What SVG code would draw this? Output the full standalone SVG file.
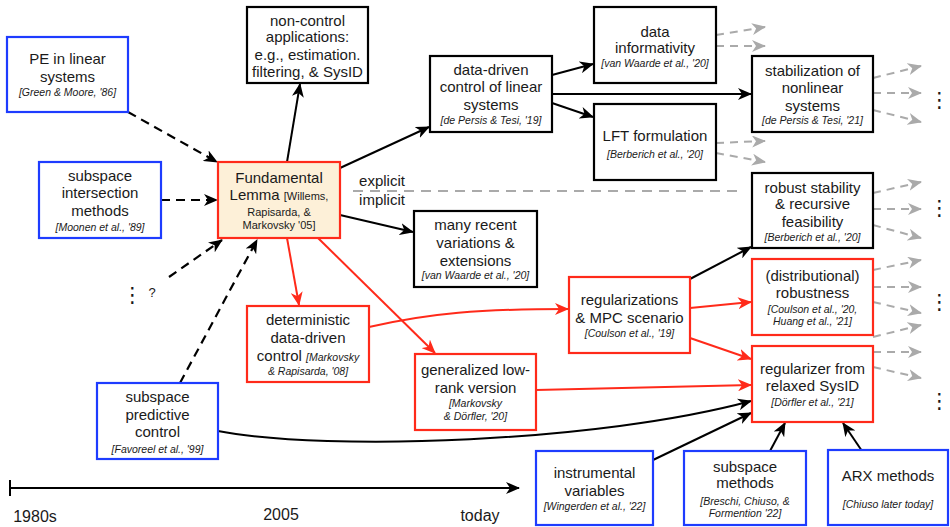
<svg xmlns="http://www.w3.org/2000/svg" width="950" height="527" viewBox="0 0 950 527">
<style>
text{font-family:"Liberation Sans",Arial,sans-serif;fill:#1a1a1a;text-anchor:middle}
.t{font-size:15px}
.c{font-size:10.5px;font-style:italic}
.s{font-size:11px}
.lab{font-size:16px}
.dots{font-family:"DejaVu Sans",sans-serif;font-size:21px;text-anchor:end}
.bk{fill:#fff;stroke:#000;stroke-width:2.2}
.bl{fill:#fff;stroke:#1e3cff;stroke-width:2.2}
.rd{fill:#fff;stroke:#ff2a1a;stroke-width:2.2}
.fl{fill:#fdf0d8;stroke:#ff2a1a;stroke-width:2.2}
.ek{fill:none;stroke:#000;stroke-width:2;marker-end:url(#ak)}
.ed{fill:none;stroke:#000;stroke-width:2.2;stroke-dasharray:9,6;marker-end:url(#ak)}
.er{fill:none;stroke:#ff2a1a;stroke-width:2;marker-end:url(#ar)}
.eg{fill:none;stroke:#aaa;stroke-width:2;stroke-dasharray:8,6;marker-end:url(#ag)}
</style>
<defs>
<marker id="ak" markerUnits="userSpaceOnUse" viewBox="0 0 14 12" markerWidth="14" markerHeight="12" refX="13" refY="6" orient="auto"><path d="M0,0 L14,6 L0,12 L4,6 z" fill="#000"/></marker>
<marker id="ar" markerUnits="userSpaceOnUse" viewBox="0 0 14 12" markerWidth="14" markerHeight="12" refX="13" refY="6" orient="auto"><path d="M0,0 L14,6 L0,12 L4,6 z" fill="#ff2a1a"/></marker>
<marker id="ag" markerUnits="userSpaceOnUse" viewBox="0 0 14 12" markerWidth="14" markerHeight="12" refX="13" refY="6" orient="auto"><path d="M0,0 L14,6 L0,12 L4,6 z" fill="#aaa"/></marker>
</defs>

<g id="connectors">
<path class="ed" d="M128,112 L217,162"/>
<path class="ed" d="M161,200 L217,200"/>
<path class="ed" d="M169,277 L222,240"/>
<path class="ed" d="M180,383 L257,240"/>
<path class="ek" d="M287,162 L300,84"/>
<path class="ek" d="M340,168 L429,127"/>
<path class="ek" d="M340,215 L413,232"/>
<path class="er" d="M287,238 L299,305"/>
<path class="er" d="M318,238 L435,353"/>
<path class="ek" d="M552,75 L593,64"/>
<path class="ek" d="M552,94 L751,94"/>
<path class="ek" d="M552,103 L593,117"/>
<path class="er" d="M369,327 C430,313 480,309 568,309"/>
<path class="ek" d="M690,279 L751,247"/>
<path class="er" d="M690,308 L751,302"/>
<path class="er" d="M690,338 L751,359"/>
<path class="er" d="M536,390 L751,385"/>
<path class="ek" d="M218,431 C330,452 600,442 751,401"/>
<path class="ek" d="M653,460 L751,413"/>
<path class="ek" d="M770,451 L785,423"/>
<path class="ek" d="M862,451 L843,423"/>
<path class="eg" d="M716,35 L765,27"/>
<path class="eg" d="M716,46 L765,46"/>
<path class="eg" d="M716,143 L765,141"/>
<path class="eg" d="M716,153 L765,162"/>
<path class="eg" d="M873,78 L921,66"/>
<path class="eg" d="M873,93 L921,93"/>
<path class="eg" d="M873,110 L921,122"/>
<path class="eg" d="M873,193 L921,182"/>
<path class="eg" d="M873,209 L921,209"/>
<path class="eg" d="M873,225 L921,238"/>
<path class="eg" d="M873,270 L921,260"/>
<path class="eg" d="M873,287 L921,287"/>
<path class="eg" d="M873,302 L921,313"/>
<path class="eg" d="M873,337 L921,325"/>
<path class="eg" d="M873,352 L921,352"/>
<path class="eg" d="M873,367 L921,378"/>
<path d="M353,191 L742,191" fill="none" stroke="#aaa" stroke-width="2" stroke-dasharray="10,7"/>
<path class="ek" d="M10,488 L519,488"/>
<path d="M10,480 L10,496" stroke="#000" stroke-width="2"/>
</g>

<g id="n_pe"><rect class="bl" x="7" y="37" width="121" height="75"/>
<text class="t" x="67.5" y="64">PE in linear</text><text class="t" x="67.5" y="82">systems</text><text class="c" x="67.5" y="96">[Green &amp; Moore, '86]</text></g>

<g id="n_sim"><rect class="bl" x="39" y="162" width="122" height="76"/>
<text class="t" x="100" y="181">subspace</text><text class="t" x="100" y="198">intersection</text><text class="t" x="100" y="216">methods</text><text class="c" x="100" y="231">[Moonen et al., '89]</text></g>

<g id="n_fl"><rect class="fl" x="218" y="162" width="122" height="76"/>
<text class="t" x="279" y="183">Fundamental</text>
<text x="279" y="200"><tspan class="t">Lemma </tspan><tspan class="s">[Willems,</tspan></text>
<text class="s" x="279" y="216">Rapisarda, &amp;</text><text class="s" x="279" y="229">Markovsky '05]</text></g>

<g id="n_nonctrl"><rect class="bk" x="247" y="7" width="121" height="76"/>
<text class="t" x="307.5" y="26">non-control</text><text class="t" x="307.5" y="42">applications:</text><text class="t" x="307.5" y="60">e.g., estimation.</text><text class="t" x="307.5" y="77">filtering, &amp; SysID</text></g>

<g id="n_ddc"><rect class="bk" x="430" y="56" width="122" height="76"/>
<text class="t" x="491" y="75">data-driven</text><text class="t" x="491" y="92">control of linear</text><text class="t" x="491" y="110">systems</text><text class="c" x="491" y="124">[de Persis &amp; Tesi, '19]</text></g>

<g id="n_many"><rect class="bk" x="414" y="211" width="123" height="76"/>
<text class="t" x="475.5" y="230">many recent</text><text class="t" x="475.5" y="248">variations &amp;</text><text class="t" x="475.5" y="266">extensions</text><text class="c" x="475.5" y="279">[van Waarde et al., '20]</text></g>

<g id="n_info"><rect class="bk" x="594" y="7" width="122" height="76"/>
<text class="t" x="655" y="37">data</text><text class="t" x="655" y="53">informativity</text><text class="c" x="655" y="67">[van Waarde et al., '20]</text></g>

<g id="n_lft"><rect class="bk" x="594" y="104" width="122" height="76"/>
<text class="t" x="655" y="141">LFT formulation</text><text class="c" x="655" y="158">[Berberich et al., '20]</text></g>

<g id="n_stab"><rect class="bk" x="752" y="56" width="121" height="76"/>
<text class="t" x="812.5" y="76">stabilization of</text><text class="t" x="812.5" y="93">nonlinear</text><text class="t" x="812.5" y="111">systems</text><text class="c" x="812.5" y="124">[de Persis &amp; Tesi, '21]</text></g>

<g id="n_robust"><rect class="bk" x="752" y="173" width="121" height="75"/>
<text class="t" x="812.5" y="193">robust stability</text><text class="t" x="812.5" y="209">&amp; recursive</text><text class="t" x="812.5" y="227">feasibility</text><text class="c" x="812.5" y="241">[Berberich et al., '20]</text></g>

<g id="n_distr"><rect class="rd" x="752" y="259" width="121" height="76"/>
<text class="t" x="812.5" y="281">(distributional)</text><text class="t" x="812.5" y="298">robustness</text><text class="c" x="812.5" y="313">[Coulson et al., '20,</text><text class="c" x="812.5" y="325">Huang et al., '21]</text></g>

<g id="n_regid"><rect class="rd" x="752" y="346" width="121" height="76"/>
<text class="t" x="812.5" y="374">regularizer from</text><text class="t" x="812.5" y="391">relaxed SysID</text><text class="c" x="812.5" y="406">[Dörfler et al., '21]</text></g>

<g id="n_arx"><rect class="bl" x="828" y="450" width="120" height="75"/>
<text class="t" x="888" y="481">ARX methods</text><text class="c" x="888" y="508">[Chiuso later today]</text></g>

<g id="n_subm"><rect class="bl" x="684" y="451" width="122" height="74"/>
<text class="t" x="745" y="472">subspace</text><text class="t" x="745" y="488">methods</text><text class="c" x="745" y="505">[Breschi, Chiuso, &amp;</text><text class="c" x="745" y="517">Formention '22]</text></g>

<g id="n_iv"><rect class="bl" x="536" y="451" width="117" height="74"/>
<text class="t" x="594.5" y="478">instrumental</text><text class="t" x="594.5" y="496">variables</text><text class="c" x="594.5" y="510">[Wingerden et al., '22]</text></g>

<g id="n_regmpc"><rect class="rd" x="569" y="277" width="121" height="76"/>
<text class="t" x="629.5" y="305">regularizations</text><text class="t" x="629.5" y="323">&amp; MPC scenario</text><text class="c" x="629.5" y="337">[Coulson et al., '19]</text></g>

<g id="n_lowrank"><rect class="rd" x="415" y="354" width="121" height="76"/>
<text class="t" x="475.5" y="375">generalized low-</text><text class="t" x="475.5" y="393">rank version</text><text class="c" x="475.5" y="407">[Markovsky</text><text class="c" x="475.5" y="420">&amp; Dörfler, '20]</text></g>

<g id="n_det"><rect class="rd" x="247" y="306" width="122" height="76"/>
<text class="t" x="308" y="325">deterministic</text><text class="t" x="308" y="343">data-driven</text>
<text x="308" y="361"><tspan class="t">control </tspan><tspan class="c">[Markovsky</tspan></text>
<text class="c" x="308" y="375">&amp; Rapisarda, '08]</text></g>

<g id="n_spc"><rect class="bl" x="97" y="383" width="121" height="76"/>
<text class="t" x="157.5" y="402">subspace</text><text class="t" x="157.5" y="420">predictive</text><text class="t" x="157.5" y="437">control</text><text class="c" x="157.5" y="453">[Favoreel et al., '99]</text></g>

<g id="labels">
<text class="t" x="382" y="186">explicit</text>
<text class="t" x="382" y="205">implicit</text>
<text class="dots" x="143" y="302">⋮</text>
<text style="font-size:13px" x="152" y="297">?</text>
<text class="dots" x="950" y="107">⋮</text>
<text class="dots" x="950" y="215">⋮</text>
<text class="dots" x="950" y="309">⋮</text>
<text class="dots" x="950" y="408">⋮</text>
<text class="lab" x="35" y="522">1980s</text>
<text class="lab" x="281" y="520">2005</text>
<text class="lab" x="480" y="521">today</text>
</g>
</svg>
